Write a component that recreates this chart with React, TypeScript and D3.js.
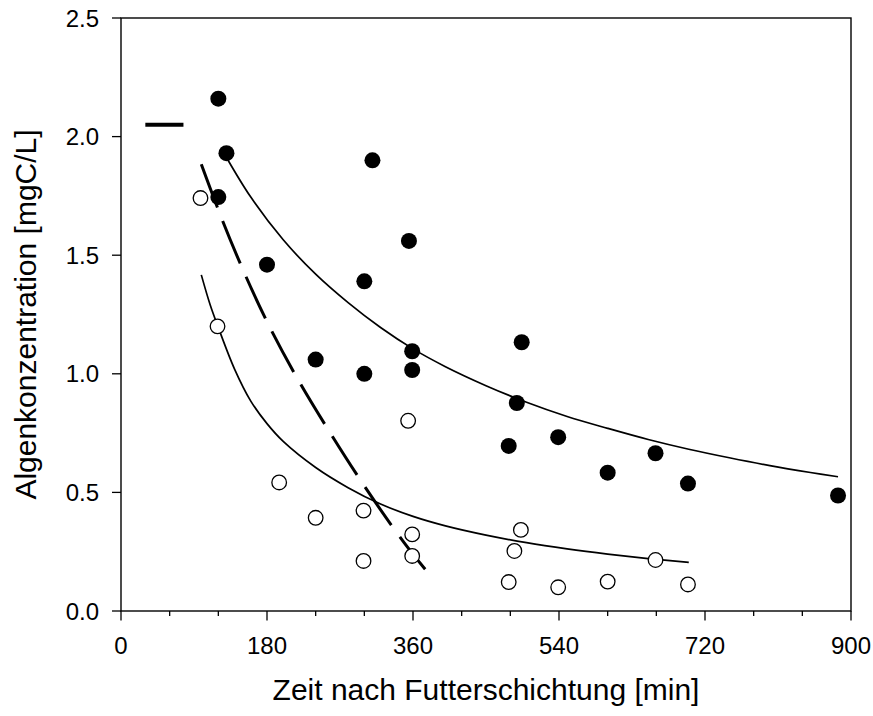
import React from "react";
import * as d3 from "d3";

const W = 873;
const H = 716;

// filled circles (upper series)
const filledX = [120, 130, 120, 180, 310, 300, 240, 300, 355, 359, 359, 494, 488, 478, 539, 600, 659, 699, 884];
const filledY = [2.16, 1.93, 1.745, 1.46, 1.90, 1.39, 1.06, 1.00, 1.56, 1.095, 1.016, 1.133, 0.877, 0.696, 0.733, 0.583, 0.665, 0.537, 0.487];

// open circles (lower series)
const openX = [98, 119, 195, 240, 299, 299, 354, 359, 359, 493, 485, 478, 539, 600, 659, 699];
const openY = [1.741, 1.20, 0.542, 0.393, 0.423, 0.211, 0.802, 0.323, 0.232, 0.342, 0.253, 0.122, 0.10, 0.124, 0.215, 0.112];

// fitted curves
const upperCurveX = [127, 160, 200, 240, 280, 320, 360, 400, 450, 500, 550, 600, 650, 700, 750, 800, 850, 884];
const upperCurveY = [1.93, 1.745, 1.565, 1.42, 1.30, 1.195, 1.105, 1.03, 0.95, 0.88, 0.82, 0.77, 0.723, 0.682, 0.646, 0.613, 0.584, 0.566];

const lowerCurveX = [99, 110, 120, 140, 160, 180, 200, 240, 280, 320, 360, 400, 450, 500, 550, 600, 650, 700];
const lowerCurveY = [1.417, 1.29, 1.195, 1.02, 0.885, 0.79, 0.715, 0.605, 0.52, 0.451, 0.399, 0.359, 0.32, 0.288, 0.262, 0.24, 0.221, 0.205];

const dashedX = [99, 124, 152, 183, 219, 259, 302, 349, 375];
const dashedY = [1.883, 1.656, 1.426, 1.199, 0.971, 0.745, 0.517, 0.288, 0.176];

// starting concentration marker
const startX = [30, 77];
const startY = [2.05, 2.05];

const xTicksMajor = [0, 180, 360, 540, 720, 900];
const xTicksMinor = [60, 120, 240, 300, 420, 480, 600, 660, 780, 840];
const yTicks = [0, 0.5, 1.0, 1.5, 2.0, 2.5];

const FONT = "Liberation Sans, Arial, Helvetica, sans-serif";

export default function App() {
  const L = 121, R = 851, T = 18, B = 611;
  const x = d3.scaleLinear().domain([0, 900]).range([L, R]);
  const y = d3.scaleLinear().domain([0, 2.5]).range([B, T]);

  const line = d3
    .line<[number, number]>()
    .x((d) => x(d[0]))
    .y((d) => y(d[1]))
    .curve(d3.curveCatmullRom.alpha(0.5));

  const zip = (a: number[], b: number[]) => a.map((v, i) => [v, b[i]] as [number, number]);

  return (
    <svg width={W} height={H} style={{ position: "absolute", left: 0, top: 0, background: "#fff" }}>
      <rect x={0} y={0} width={W} height={H} fill="#fff" />
      {/* curves */}
      <path d={line(zip(upperCurveX, upperCurveY)) || ""} fill="none" stroke="#000" strokeWidth={1.7} />
      <path d={line(zip(lowerCurveX, lowerCurveY)) || ""} fill="none" stroke="#000" strokeWidth={1.7} />
      <path
        d={line(zip(dashedX, dashedY)) || ""}
        fill="none"
        stroke="#000"
        strokeWidth={3}
        strokeDasharray="46 14.5"
      />
      <path d={line(zip(startX, startY)) || ""} fill="none" stroke="#000" strokeWidth={4} />

      {/* open circles */}
      {openX.map((v, i) => (
        <circle key={"o" + i} cx={x(v)} cy={y(openY[i])} r={7.3} fill="#fff" stroke="#000" strokeWidth={1.3} />
      ))}
      {/* filled circles */}
      {filledX.map((v, i) => (
        <circle key={"f" + i} cx={x(v)} cy={y(filledY[i])} r={8} fill="#000" />
      ))}

      {/* frame */}
      <rect x={L} y={T} width={R - L} height={B - T} fill="none" stroke="#000" strokeWidth={1.4} />

      {/* x ticks */}
      {xTicksMinor.map((t) => (
        <line key={"xm" + t} x1={x(t)} x2={x(t)} y1={B} y2={B + 5} stroke="#000" strokeWidth={1.3} />
      ))}
      {xTicksMajor.map((t) => (
        <g key={"xM" + t}>
          <line x1={x(t)} x2={x(t)} y1={B} y2={B + 9.5} stroke="#000" strokeWidth={1.3} />
          <text x={x(t)} y={654} textAnchor="middle" fontFamily={FONT} fontSize={24} fill="#000">
            {t}
          </text>
        </g>
      ))}

      {/* y ticks */}
      {yTicks.map((t) => (
        <g key={"y" + t}>
          <line x1={L - 9} x2={L} y1={y(t)} y2={y(t)} stroke="#000" strokeWidth={1.3} />
          <text x={99} y={y(t) + 8.5} textAnchor="end" fontFamily={FONT} fontSize={24} fill="#000">
            {t.toFixed(1)}
          </text>
        </g>
      ))}

      {/* axis titles */}
      <text x={(L + R) / 2} y={700} textAnchor="middle" fontFamily={FONT} fontSize={30} fill="#000">
        Zeit nach Futterschichtung [min]
      </text>
      <text
        transform={`translate(35.5, ${(T + B) / 2}) rotate(-90)`}
        textAnchor="middle"
        fontFamily={FONT}
        fontSize={30}
        fill="#000"
      >
        Algenkonzentration [mgC/L]
      </text>
    </svg>
  );
}
